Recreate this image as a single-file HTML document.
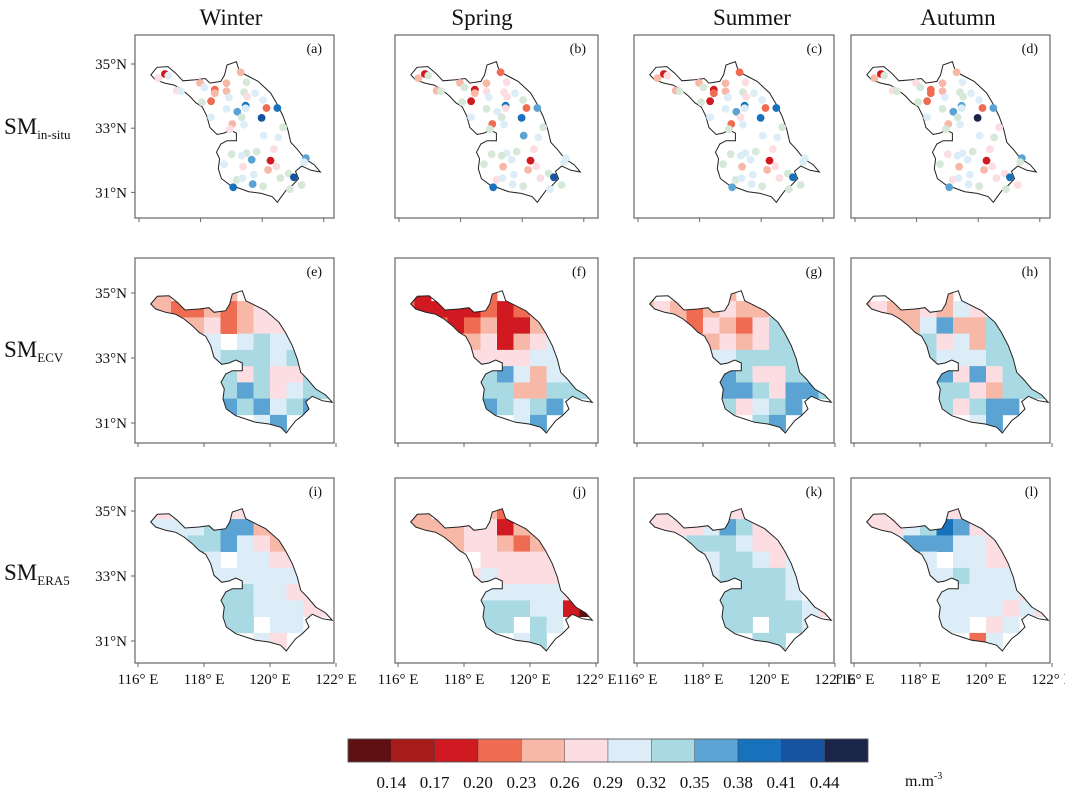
<!DOCTYPE html>
<html><head><meta charset="utf-8"><style>
html,body{margin:0;padding:0;background:#fff;}
svg{display:block;font-family:"Liberation Serif",serif;}
</style></head><body>
<svg id="fig" width="1065" height="789" viewBox="0 0 1065 789" xmlns="http://www.w3.org/2000/svg"></svg>
<script>
// ---- data ----
const seasons = ["Winter","Spring","Summer","Autumn"];
const rowLabels = [["SM","in-situ"],["SM","ECV"],["SM","ERA5"]];
const panelTags = ["(a)","(b)","(c)","(d)","(e)","(f)","(g)","(h)","(i)","(j)","(k)","(l)"];
const classColors = {A:"#5e1012",B:"#a81b1b",C:"#d01920",D:"#ef6b52",E:"#f7b8a8",F:"#fbdde2",G:"#dcedf8",H:"#a9dae3",I:"#5aa3d2",J:"#1772bb",K:"#1753a0",L:"#1b2449",g:"#d6e9d9"};
const barClasses = ["A","B","C","D","E","F","G","H","I","J","K","L"];
const barTicks = ["0.14","0.17","0.20","0.23","0.26","0.29","0.32","0.35","0.38","0.41","0.44"];
const lonTicks = [116,118,120,122];
const latTicks = [35,33,31];
const stationLon = [116.84,116.63,116.95,117.22,117.36,117.98,118.12,118.46,118.46,118.84,118.84,118.05,118.34,118.92,119.30,119.49,119.41,119.51,119.77,119.46,119.46,119.19,118.84,118.34,119.33,119.41,119.03,118.95,119.98,120.03,120.14,120.49,120.68,120.05,120.52,120.38,119.82,119.49,119.33,119.01,119.66,120.27,120.46,120.19,119.38,118.76,119.73,120.59,120.86,121.03,121.42,121.36,119.17,119.36,119.69,120.03,119.06,120.90,121.28];
const stationLat = [34.69,34.56,34.64,34.17,34.15,34.41,34.27,34.20,34.09,34.40,34.15,33.81,33.84,33.96,34.74,34.43,34.12,33.98,34.09,33.70,33.62,33.51,33.60,33.34,33.34,33.11,33.13,32.97,33.32,33.88,33.63,33.63,33.03,32.77,32.71,32.35,32.27,32.22,32.14,32.19,32.02,31.99,31.81,31.70,31.80,31.88,31.55,31.45,31.59,31.47,32.07,31.94,31.39,31.44,31.26,31.19,31.16,31.10,31.23];
const insituWinter = "CFGFGEGDEEEgDGEggFGJGIGGgGEFKGDJgGGFggGgICFEFGGggKIGgGIgJgg";
const insituSpring = "CEgEgEgCEEFgCGDFFFGJFGgGgGDgJgDIgIGFgGggGCFEEgGFgKGGFGGgJGg";
const insituSummer = "CEFEgEgCDEEgCGDFgFGJGIGGFGDgJGDJgGGFgGGgGCFEEgGFgJGGgGGgIgg";
const insituAutumn = "CEgFgFgDDEEgDGEGggGIGIgGgGEgLGDIFGgFgGGFGCFEEgGFFJIgFGGgIgF";
// gridded anomalies: 0.5 deg cells, rows from 35.25N southward, cols from 116E eastward
const ecvWinter = ["EE.EDE......","EEDDEDEFG...","..EEFDEFFG..","...GG.GHGG..","....GHHHGH..","....HHFHFFH.","....IHIHFGHH",".....IHIGHI.",".......GI..."];
const ecvSpring = ["DC..DD......","DCCCCDCDE...","..DCDECCEF..","...FEFCEFG..","....FFFFGG..","....HHIGEGG.","....HHHEEHHH",".....IHGHI..",".......GI..."];
const ecvSummer = ["D..E.E......","EFEDEFEEG...","..EDFEDFHG..","...GEFEFHH..","....GGHHHH..","....HIHFFHH.","....HIIHFIIH",".....HFGHI..",".......HI..."];
const ecvAutumn = ["E..F.E......","EFEEFEGFG...","..EEGIEEHH..","...HHFGEHH..","....HGGGHH..","....IIFIFHH.","....IHHFEHHH",".....HFHII..",".......GI..."];
const era5Winter = ["FF.F.FF.....","GGGGHIIEE...","..GHHIGFEF..","...IG.GGFF..","....GGGGGG..","....GHHGGFF.","....HHHGGGFF",".....HH.GG..",".......GF..."];
const era5Spring = ["EE.F.ED.....","EEEEFFCEE...","..EEFFEDEF..","...H.FFFFF..","....FGFFFF..","....GGGGGGF.","....HHHHGGCA",".....HH.HG..",".......GH..."];
const era5Summer = ["FF.F.FF.....","FFFFGIHFF...","..GHHHGFFG..","...IGHHGFG..","....GHHHHG..","....HHHHHG..","....HHHHHHGF",".....HH.HHG.",".......HH..."];
const era5Autumn = ["FF.F.FF.....","FFFGHJIFG...","..GIIIGGFG..","...IG.GGFF..","....GGHGGG..","....GGGGGGF.","....GGGGGFGF",".....GG.FG..",".......DG..."];
const insituSets = [insituWinter,insituSpring,insituSummer,insituAutumn];
const gridSets = [[ecvWinter,ecvSpring,ecvSummer,ecvAutumn],[era5Winter,era5Spring,era5Summer,era5Autumn]];

// ---- layout ----
const NS="http://www.w3.org/2000/svg";
const svg=document.getElementById('fig');
function mk(tag,attrs,parent){const e=document.createElementNS(NS,tag);for(const k in attrs)e.setAttribute(k,attrs[k]);(parent||svg).appendChild(e);return e;}
const colLeft=[135,395,634,851], colW=[199,203,200,199];
const rowTop=[35,258,478], rowH=[183,185,185];
const rowScale=[{ox:4,sx:30.8,oy:29,sy:32.1},{ox:3,sx:33,oy:35,sy:32.5},{ox:3,sx:33,oy:33,sy:32.5}];
const outlineZ=[[155,185],[175,162],[210,160],[235,180],[258,203],[300,200],[330,196],[345,210],[380,205],[392,185],[400,155],[430,145],[440,175],[470,190],[500,205],[540,240],[560,272],[580,310],[595,350],[605,390],[625,410],[650,440],[680,458],[700,480],[670,475],[640,462],[620,478],[630,500],[610,520],[590,535],[572,558],[562,572],[545,555],[510,545],[470,540],[440,530],[410,520],[382,500],[372,470],[376,440],[366,420],[380,395],[400,385],[430,385],[430,362],[410,353],[390,362],[368,366],[345,345],[335,310],[320,282],[300,270],[280,250],[255,230],[230,216],[200,210],[170,200]];
const outline=outlineZ.map(p=>[116+(p[0]-117)/99,35-(p[1]-152)/97.5]);

const titleX=[231,482,752,958];
seasons.forEach((s,i)=>{const t=mk('text',{x:titleX[i],y:25,'text-anchor':'middle','font-size':23,fill:'#111'});t.textContent=s;

});
const rowLabelY=[134,357,580];
rowLabels.forEach((r,i)=>{const t=mk('text',{x:4,y:rowLabelY[i],'font-size':23,fill:'#111'});t.textContent=r[0];
const ts=mk('tspan',{'font-size':13,dy:5},t);ts.textContent=r[1];

});

for(let r=0;r<3;r++){for(let c=0;c<4;c++){
  const L=colLeft[c],T=rowTop[r],W=colW[c],H=rowH[r],sc=rowScale[r];
  const px=lon=>L+sc.ox+(lon-116)*sc.sx, py=lat=>T+sc.oy+(35-lat)*sc.sy;
  const g=mk('g',{});
  
  
  const d='M'+outline.map(p=>px(p[0]).toFixed(1)+','+py(p[1]).toFixed(1)).join('L')+'Z';
  const cid='clip'+r+c;
  const cp=mk('clipPath',{id:cid},g);mk('path',{d:d},cp);
  if(r>0){
    const data=gridSets[r-1][c];
    const cg=mk('g',{'clip-path':'url(#'+cid+')'},g);
    data.forEach((row,ri)=>{for(let ci=0;ci<row.length;ci++){const k=row[ci];if(k==='.')continue;
      const lon0=116+ci*0.5, lat1=35.25-ri*0.5;
      const x0=px(lon0),x1=px(lon0+0.5),y0=py(lat1),y1=py(lat1-0.5);
      const rc=mk('rect',{x:x0.toFixed(1),y:y0.toFixed(1),width:(x1-x0+0.4).toFixed(1),height:(y1-y0+0.4).toFixed(1),fill:classColors[k]},cg);
      
      }});
  }
  const ol=mk('path',{d:d,fill:'none',stroke:'#222','stroke-width':1},g);
  
  
  if(r===0){
    const vals=insituSets[c];
    stationLon.forEach((lo,i)=>{const dot=mk('circle',{cx:px(lo).toFixed(1),cy:py(stationLat[i]).toFixed(1),r:3.9,fill:classColors[vals[i]]},g);
      
      });
  }
  const fr=mk('rect',{x:L,y:T,width:W,height:H,fill:'none',stroke:'#666','stroke-width':1.2},g);
  
  
  const tg=mk('text',{x:L+W-12,y:T+18,'text-anchor':'end','font-size':14,fill:'#111'},g);tg.textContent=panelTags[r*4+c];
  
  
  lonTicks.forEach(lo=>{const x=px(lo);mk('line',{x1:x,x2:x,y1:T+H,y2:T+H+4,stroke:'#666'},g);
    if(r===2){const t=mk('text',{x:x,y:T+H+21,'text-anchor':'middle','font-size':15,fill:'#111'},g);t.textContent=lo+'° E';
      
      }});
  if(c===0){latTicks.forEach(la=>{const y=py(la);mk('line',{x1:L-4,x2:L,y1:y,y2:y,stroke:'#666'},g);
    const t=mk('text',{x:L-8,y:y+5,'text-anchor':'end','font-size':15,fill:'#111'},g);t.textContent=la+'°N';
    
    });}
}}

const cb=mk('g',{});


const cbX=348,cbW=520,cbY=739,cbH=23,cw=cbW/barClasses.length;
barClasses.forEach((k,i)=>{const rc=mk('rect',{x:cbX+i*cw,y:cbY,width:cw,height:cbH,fill:classColors[k],stroke:'#444','stroke-width':0.4},cb);
  
  });
mk('rect',{x:cbX,y:cbY,width:cbW,height:cbH,fill:'none',stroke:'#555','stroke-width':0.8},cb);
barTicks.forEach((v,i)=>{const t=mk('text',{x:cbX+(i+1)*cw,y:788,'text-anchor':'middle','font-size':17,fill:'#111'},cb);t.textContent=v;
  
  });
const u=mk('text',{x:905,y:786,'font-size':16,fill:'#111'},cb);u.textContent='m.m';
const us=mk('tspan',{'font-size':10,dy:-7},u);us.textContent='-3';


</script>
</body></html>
